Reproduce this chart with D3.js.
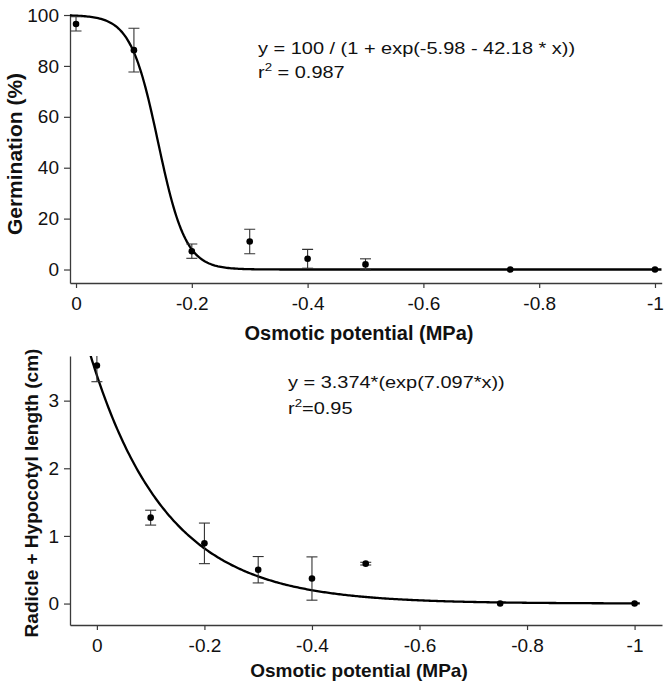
<!DOCTYPE html>
<html>
<head>
<meta charset="utf-8">
<script src="https://cdn.jsdelivr.net/npm/d3@7"></script>
<style>
  html, body { margin: 0; padding: 0; background: #fff; }
  svg { display: block; font-family: "Liberation Sans", Arial, sans-serif; }
</style>
</head>
<body>
<div id="chart"></div>
<script>
// ---------- data ----------
const potentials = [0, -0.1, -0.2, -0.3, -0.4, -0.5, -0.75, -1];
const germination = [96.5, 86.2, 7.2, 11.0, 4.2, 2.0, 0, 0];
const germinationErr = [2.8, 8.6, 2.8, 4.8, 3.7, 2.2, 0, 0];
const seedlingLength = [3.52, 1.27, 0.89, 0.50, 0.37, 0.59, 0, 0];
const seedlingErr = [0.24, 0.11, 0.30, 0.195, 0.32, 0.02, 0, 0];

const xTicks = [0, -0.2, -0.4, -0.6, -0.8, -1];
const xTickLabels = ["0", "-0.2", "-0.4", "-0.6", "-0.8", "-1"];
const germTicks = [0, 20, 40, 60, 80, 100];
const lengthTicks = [0, 1, 2, 3];

// fitted model coefficients (from the equations printed on the chart)
const logisticFit = [100, -5.98, -42.18];   // y = a / (1 + exp(b + c*x))
const expFit = [3.374, 7.097];              // y = a * exp(b*x)

const xLabel = "Osmotic potential (MPa)";
const germLabel = "Germination (%)";
const lengthLabel = "Radicle + Hypocotyl length (cm)";

// ---------- layout ----------
const W = 670, H = 687;
const svg = d3.select("#chart").append("svg").attr("width", W).attr("height", H);

const axisColor = "#3a3a3a";
const textColor = "#111";

function panel(cfg) {
  const x = d3.scaleLinear().domain(cfg.xDomain).range(cfg.xRange);
  const y = d3.scaleLinear().domain(cfg.yDomain).range(cfg.yRange);
  const g = svg.append("g");

  const clipId = "clip" + cfg.id;
  svg.append("clipPath").attr("id", clipId).append("rect")
    .attr("x", cfg.xRange[0]).attr("y", cfg.yRange[1])
    .attr("width", cfg.xRange[1] - cfg.xRange[0])
    .attr("height", cfg.yRange[0] - cfg.yRange[1]);

  // axes
  const xAxis = d3.axisBottom(x).tickValues(xTicks)
    .tickFormat((d, i) => xTickLabels[i]).tickSize(5).tickPadding(4).tickSizeOuter(0);
  const gx = g.append("g").attr("transform", `translate(0,${cfg.yRange[0]})`).call(xAxis);
  const yAxis = d3.axisLeft(y).tickValues(cfg.yTicks)
    .tickFormat(d3.format("d")).tickSize(6).tickPadding(5).tickSizeOuter(0);
  const gy = g.append("g").attr("transform", `translate(${cfg.xRange[0]},0)`).call(yAxis);
  [gx, gy].forEach(a => {
    a.select(".domain").attr("stroke", axisColor).attr("stroke-width", 1.3);
    a.selectAll(".tick line").attr("stroke", axisColor).attr("stroke-width", 1.2);
    a.selectAll(".tick text").attr("fill", textColor).style("font-size", "19px")
      .style("font-family", '"Liberation Sans", Arial, sans-serif');
  });
  gx.selectAll(".tick text").attr("dy", "0.95em");

  const plot = g.append("g").attr("clip-path", `url(#${clipId})`);

  // fitted curve
  const xs = d3.range(0, 401).map(i => cfg.xDomain[0] + (cfg.xDomain[1] - cfg.xDomain[0]) * i / 400);
  const line = d3.line().x(d => x(d)).y(d => y(cfg.model(d))).curve(d3.curveLinear);
  plot.append("path").datum(xs.filter(d => d >= cfg.curveEnd))
    .attr("d", line).attr("fill", "none").attr("stroke", "#000").attr("stroke-width", 2.3);

  // error bars
  const capW = 5.5;
  const eb = plot.selectAll(".eb").data(potentials).enter().append("g");
  eb.append("line")
    .attr("x1", d => x(d)).attr("x2", d => x(d))
    .attr("y1", (d, i) => y(cfg.values[i] + cfg.errs[i]))
    .attr("y2", (d, i) => y(cfg.values[i] - cfg.errs[i]))
    .attr("stroke", "#333").attr("stroke-width", 1.1);
  [1, -1].forEach(s => {
    eb.filter((d, i) => cfg.errs[i] > 0).append("line")
      .attr("x1", d => x(d) - capW).attr("x2", d => x(d) + capW)
      .attr("y1", (d, i) => y(cfg.values[i] + s * cfg.errs[i]))
      .attr("y2", (d, i) => y(cfg.values[i] + s * cfg.errs[i]))
      .attr("stroke", "#333").attr("stroke-width", 1.1);
  });

  // points
  plot.selectAll(".pt").data(potentials).enter().append("circle")
    .attr("cx", d => x(d)).attr("cy", (d, i) => y(cfg.values[i]))
    .attr("r", 3.3).attr("fill", "#000");

  // axis titles
  g.append("text").attr("x", 359).attr("y", cfg.xTitleY)
    .attr("text-anchor", "middle").attr("fill", textColor)
    .style("font-size", cfg.xTitleSize + "px").style("font-weight", "bold").text(xLabel);
  g.append("text")
    .attr("transform", `translate(${cfg.yTitleX},${cfg.yTitleCy}) rotate(-90)`)
    .attr("text-anchor", "middle").attr("fill", textColor)
    .style("font-size", cfg.yTitleSize + "px").style("font-weight", "bold").text(cfg.yLabel);

  // equation
  const eq = g.append("g").attr("transform", `translate(${cfg.eqX},${cfg.eqY}) scale(${cfg.eqSx},1)`)
    .style("font-size", "16.5px").attr("fill", textColor);
  eq.append("text").attr("x", 0).attr("y", 0).text(cfg.eqLine1);
  const t2 = eq.append("text").attr("x", 0).attr("y", cfg.eqGap);
  t2.append("tspan").text("r");
  t2.append("tspan").attr("dy", -7).style("font-size", "11px").text("2");
  t2.append("tspan").attr("dy", 7).text(cfg.eqLine2);
}

panel({
  id: "top",
  xDomain: [0.0104, -1.0116], xRange: [70, 661.7],
  yDomain: [-5.3, 100.4], yRange: [283, 14],
  yTicks: germTicks,
  values: germination, errs: germinationErr,
  model: v => logisticFit[0] / (1 + Math.exp(logisticFit[1] + logisticFit[2] * v)),
  curveEnd: -1.0116,
  xTitleY: 340, xTitleSize: 20,
  yLabel: germLabel, yTitleX: 22, yTitleCy: 154, yTitleSize: 21,
  eqX: 258, eqY: 54, eqSx: 1.21, eqGap: 24,
  eqLine1: "y = 100 / (1 + exp(-5.98 - 42.18 * x))",
  eqLine2: " = 0.987"
});

panel({
  id: "bottom",
  xDomain: [0.05, -1.051], xRange: [70, 662],
  yDomain: [-0.317, 3.66], yRange: [625, 356],
  yTicks: lengthTicks,
  values: seedlingLength, errs: seedlingErr,
  model: v => expFit[0] * Math.exp(expFit[1] * v),
  curveEnd: -1.01,
  xTitleY: 677, xTitleSize: 19,
  yLabel: lengthLabel, yTitleX: 38, yTitleCy: 493, yTitleSize: 19,
  eqX: 288, eqY: 388, eqSx: 1.21, eqGap: 26,
  eqLine1: "y = 3.374*(exp(7.097*x))",
  eqLine2: "=0.95"
});
</script>
</body>
</html>
